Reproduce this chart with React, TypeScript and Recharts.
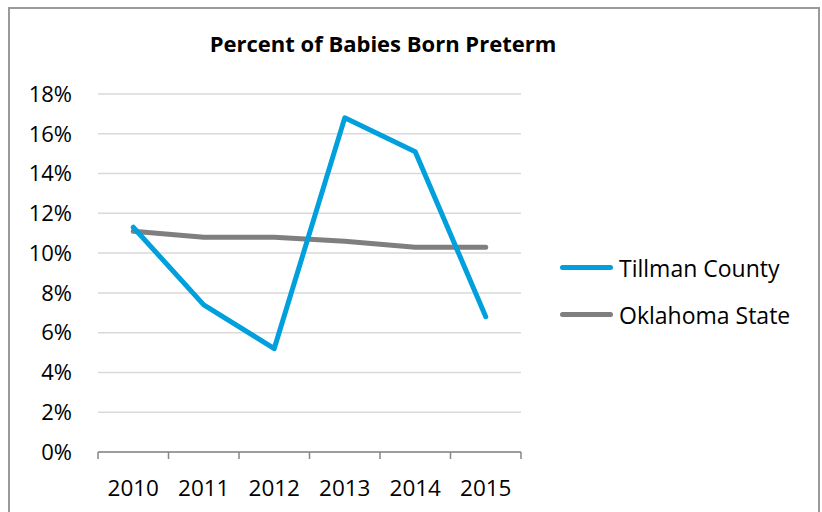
import { LineChart, Line, XAxis, YAxis, CartesianGrid } from 'recharts'

const years = ['2010', '2011', '2012', '2013', '2014', '2015']
const tillmanCounty = [11.3, 7.4, 5.2, 16.8, 15.1, 6.8]
const oklahomaState = [11.1, 10.8, 10.8, 10.6, 10.3, 10.3]
const yTicks = [0, 2, 4, 6, 8, 10, 12, 14, 16, 18]

const seriesInfo = [
  { key: 'tillman', name: 'Tillman County', color: '#00a0dc' },
  { key: 'oklahoma', name: 'Oklahoma State', color: '#7f7f7f' },
]

const data = years.map((year, i) => ({
  year,
  tillman: tillmanCounty[i],
  oklahoma: oklahomaState[i],
}))

const font = '"Open Sans", "Noto Sans", sans-serif'

// category labels plus Excel-style tick marks between categories
function YearTick(props: any) {
  const { x, y, payload, index, visibleTicksCount, width } = props
  const half = payload.offset || width / (visibleTicksCount * 2)
  const last = index === visibleTicksCount - 1
  return (
    <g>
      <line x1={x - half} x2={x - half} y1={y} y2={y + 7} stroke="#868686" strokeWidth={1.5} />
      {last && <line x1={x + half} x2={x + half} y1={y} y2={y + 7} stroke="#868686" strokeWidth={1.5} />}
      <text x={x} y={y + 44} textAnchor="middle" fill="#000" fontSize={22.5} fontFamily={font}>
        {payload.value}
      </text>
    </g>
  )
}

function LegendBox() {
  return (
    <div
      style={{
        position: 'absolute',
        left: 560,
        top: 244,
        fontFamily: font,
        fontSize: 23,
        color: '#000',
      }}
    >
      {seriesInfo.map((s) => (
        <div key={s.key} style={{ display: 'flex', alignItems: 'center', height: 47 }}>
          <div style={{ width: 53, height: 5, borderRadius: 3, background: s.color, marginRight: 6 }} />
          <span>{s.name}</span>
        </div>
      ))}
    </div>
  )
}

export default function App() {
  return (
    <div style={{ position: 'absolute', left: 0, top: 0, width: 822, height: 512, overflow: 'hidden', background: '#fff' }}>
      <div
        style={{
          position: 'absolute',
          left: 8,
          top: 7,
          width: 808,
          height: 540,
          border: '2px solid #9a9a9a',
        }}
      />
      <div
        style={{
          position: 'absolute',
          left: 0,
          width: 766,
          top: 28,
          textAlign: 'center',
          fontFamily: font,
          fontWeight: 700,
          fontSize: 22,
          color: '#000',
        }}
      >
        Percent of Babies Born Preterm
      </div>
      <LineChart
        width={822}
        height={512}
        data={data}
        margin={{ top: 94, right: 301, bottom: 0, left: 0 }}
        style={{ position: 'absolute', left: 0, top: 0 }}
      >
        <CartesianGrid vertical={false} stroke="#d9d9d9" strokeWidth={1.5} />
        <XAxis
          dataKey="year"
          scale="band"
          height={60}
          tickLine={false}
          tickSize={0}
          tickMargin={0}
          axisLine={{ stroke: '#868686', strokeWidth: 1.5 }}
          tick={<YearTick />}
          interval={0}
        />
        <YAxis
          width={98}
          domain={[0, 18]}
          ticks={yTicks}
          interval={0}
          tickFormatter={(v) => `${v}%`}
          axisLine={false}
          tickLine={false}
          tickSize={0}
          tickMargin={26}
          tick={{ fill: '#000', fontSize: 22, fontFamily: font }}
        />
        <Line
          dataKey="oklahoma"
          name="Oklahoma State"
          stroke="#7f7f7f"
          strokeWidth={5}
          dot={false}
          strokeLinecap="round"
          strokeLinejoin="round"
          isAnimationActive={false}
        />
        <Line
          dataKey="tillman"
          name="Tillman County"
          stroke="#00a0dc"
          strokeWidth={5}
          dot={false}
          strokeLinecap="round"
          strokeLinejoin="round"
          isAnimationActive={false}
        />
      </LineChart>
      <LegendBox />
    </div>
  )
}
